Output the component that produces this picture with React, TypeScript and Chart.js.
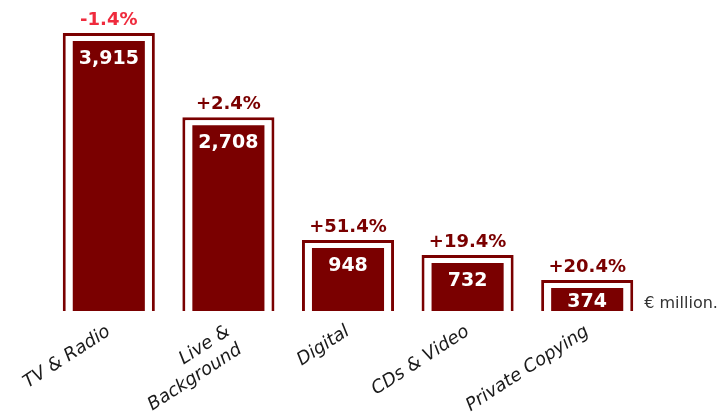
import React, { useEffect, useRef } from "react";
import { Chart, registerables } from "chart.js";

Chart.register(...registerables);

const categories: (string | string[])[] = [
  "TV & Radio",
  ["Live &", "Background"],
  "Digital",
  "CDs & Video",
  "Private Copying",
];
const values = [3915, 2708, 948, 732, 374];
const changes = ["-1.4%", "+2.4%", "+51.4%", "+19.4%", "+20.4%"];
const unitLabel = "€ million.";
const axisMin = -70;
const axisMax = 4000;

const MAROON = "#7a0000";
const RED = "#ef2b3d";

const labelPlugin = {
  id: "barLabels",
  afterDatasetsDraw(chart: any) {
    const ctx = chart.ctx;
    const bottom = chart.chartArea.bottom;
    const meta = chart.getDatasetMeta(1);
    meta.data.forEach((bar: any, i: number) => {
      const { x, y, width } = bar.getProps(["x", "y", "width"], true);
      ctx.save();
      ctx.textAlign = "center";
      ctx.textBaseline = "alphabetic";
      ctx.font = "bold 19px 'DejaVu Sans'";
      ctx.fillStyle = "#ffffff";
      ctx.fillText(values[i].toLocaleString("en-US"), x, Math.min(y + 31, bottom - 4));
      ctx.font = "bold 18px 'DejaVu Sans'";
      ctx.fillStyle = changes[i].startsWith("-") ? RED : MAROON;
      ctx.fillText(changes[i], x, y - 8);
      if (i === values.length - 1) {
        ctx.textAlign = "left";
        ctx.font = "16px 'DejaVu Sans'";
        ctx.fillStyle = "#333333";
        ctx.fillText(unitLabel, x + width / 2 + 11, bottom - 3);
      }
      ctx.restore();
    });
  },
};

export default function App() {
  const ref = useRef<HTMLCanvasElement | null>(null);

  useEffect(() => {
    if (!ref.current) return;
    const chart = new Chart(ref.current, {
      type: "bar",
      data: {
        labels: categories,
        datasets: [
          {
            data: values,
            base: axisMin,
            backgroundColor: MAROON,
            borderColor: "rgba(0,0,0,0)",
            borderWidth: { top: 8, left: 10, right: 10, bottom: 0 },
            borderSkipped: false,
            grouped: false,
            barPercentage: 0.77,
            categoryPercentage: 1,
          } as any,
          {
            data: values,
            base: axisMin,
            backgroundColor: "#ffffff",
            borderColor: MAROON,
            borderWidth: 3,
            borderSkipped: "start",
            grouped: false,
            barPercentage: 0.77,
            categoryPercentage: 1,
          } as any,
        ],
      },
      options: {
        animation: false,
        responsive: true,
        maintainAspectRatio: false,
        layout: { padding: { left: 49, right: 73, top: 27, bottom: 0 } },
        plugins: {
          legend: { display: false },
          tooltip: { enabled: false },
        },
        scales: {
          y: { display: false, min: axisMin, max: axisMax },
          x: {
            grid: { display: false, drawTicks: false },
            border: { display: false },
            ticks: {
              autoSkip: false,
              minRotation: 33,
              maxRotation: 33,
              padding: 10,
              color: "#1a1a1a",
              font: { family: "'DejaVu Sans'", size: 18, style: "italic" },
            },
            afterFit: (scale: any) => {
              scale.height = 106;
            },
          },
        },
      },
      plugins: [labelPlugin],
    });
    return () => chart.destroy();
  }, []);

  return (
    <div style={{ position: "absolute", left: 0, top: 0, width: 720, height: 417, background: "#fff" }}>
      <canvas ref={ref} />
    </div>
  );
}
